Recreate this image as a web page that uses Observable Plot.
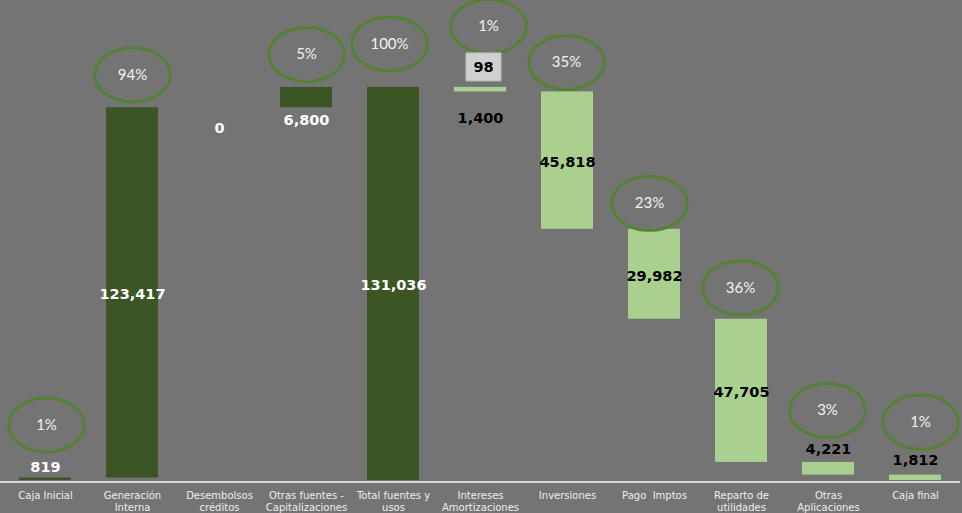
<!DOCTYPE html>
<html>
<head>
<meta charset="utf-8">
<script src="https://cdn.jsdelivr.net/npm/d3@7"></script>
<script src="https://cdn.jsdelivr.net/npm/@observablehq/plot@0.6"></script>
<style>
  html, body { margin: 0; padding: 0; background: #747474; overflow: hidden; }
  #chart svg { display: block; }
</style>
</head>
<body>
<div id="chart"></div>
<script>
// ---- DATA ----
const categories = [
  "Caja Inicial", "Generación\nInterna", "Desembolsos\ncréditos",
  "Otras fuentes -\nCapitalizaciones", "Total fuentes y\nusos",
  "Intereses\nAmortizaciones", "Inversiones", "Pago  Imptos",
  "Reparto de\nutilidades", "Otras\nAplicaciones", "Caja final"
];
const intereses = 98;
const amortizaciones = 1400;
const values = [819, 123417, 0, 6800, 131036, intereses + amortizaciones, 45818, 29982, 47705, 4221, 1812];
const steps = ["start", "up", "up", "up", "total", "down", "down", "down", "down", "down", "end"];
const groups = ["fuente", "fuente", "fuente", "fuente", "fuente", "uso", "uso", "uso", "uso", "uso", "uso"];
const valueLabels = ["819", "123,417", "0", "6,800", "131,036", "1,400", "45,818", "29,982", "47,705", "4,221", "1,812"];
const percentLabels = ["1%", "94%", "", "5%", "100%", "1%", "35%", "23%", "36%", "3%", "1%"];
const boxLabel = String(intereses);

// ---- BUILD ----
let cum = 0;
const data = categories.map((cat, i) => {
  const v = values[i];
  let y1, y2;
  if (steps[i] === "start" || steps[i] === "total" || steps[i] === "end") { y1 = 0; y2 = v; cum = v; }
  else if (steps[i] === "up") { y1 = cum; y2 = cum + v; cum += v; }
  else { y1 = cum - v; y2 = cum; cum -= v; }
  return { i, cat, v, y1, y2, group: groups[i], label: valueLabels[i], pct: percentLabels[i] };
});

// ---- LAYOUT (pixel offsets, not data) ----
const valueAnchor = ["top", "mid", "top", "bottom", "mid", "bottom", "mid", "mid", "mid", "top", "top"];
const valueDy = [-11, 1, 21, 13, 1.5, 26, 1.5, 2, 2, -13.5, -14.5];
const pctDy = [-53, -33, 0, -33, -43.5, -61, -29.5, -26, -31.5, -52, -53];
const pctDx = [1, 0, 0, 0, -4, 8, -1, -5, -1, -1, 5];

const colorFuente = "#3b5525";
const colorUso = "#a9d08e";

function ellipse(ratio) {
  return {
    draw(ctx, size) {
      const ry = Math.sqrt(size / Math.PI), rx = ry * ratio, k = 0.5523;
      ctx.moveTo(rx, 0);
      ctx.bezierCurveTo(rx, ry * k, rx * k, ry, 0, ry);
      ctx.bezierCurveTo(-rx * k, ry, -rx, ry * k, -rx, 0);
      ctx.bezierCurveTo(-rx, -ry * k, -rx * k, -ry, 0, -ry);
      ctx.bezierCurveTo(rx * k, -ry, rx, -ry * k, rx, 0);
      ctx.closePath();
    }
  };
}
function rectSym(ratio) {
  return {
    draw(ctx, size) {
      const ry = Math.sqrt(size / Math.PI), rx = ry * ratio;
      ctx.moveTo(-rx, -ry); ctx.lineTo(rx, -ry); ctx.lineTo(rx, ry); ctx.lineTo(-rx, ry); ctx.closePath();
    }
  };
}

const valueMarks = data.map((d, i) => {
  const a = valueAnchor[i];
  return Plot.text([d], {
    x: "cat",
    y: a === "mid" ? (e) => (e.y1 + e.y2) / 2 : a === "top" ? "y2" : "y1",
    text: "label",
    dy: valueDy[i],
    fill: d.group === "fuente" ? "#ffffff" : "#000000",
    fontFamily: "DejaVu Sans",
    fontWeight: "bold",
    fontSize: 14.5,
    lineAnchor: "middle"
  });
});

const pctData = data.filter((d) => d.pct);
const pctMarks = pctData.flatMap((d) => [
  Plot.dot([d], {
    x: "cat", y: "y2", dx: pctDx[d.i], dy: pctDy[d.i],
    symbol: ellipse(1.4), r: 27,
    fill: "none", stroke: "#548235", strokeWidth: 3
  }),
  Plot.text([d], {
    x: "cat", y: "y2", dx: pctDx[d.i], dy: pctDy[d.i],
    text: "pct", fill: "#f2f2f2",
    fontFamily: "Lato", fontSize: 15, lineAnchor: "middle"
  })
]);

const box = data.filter((d) => d.i === 5);

const chart = Plot.plot({
  width: 962,
  height: 513,
  marginLeft: 0,
  marginRight: 2,
  marginTop: 0,
  marginBottom: 33,
  style: { background: "#747474", fontFamily: "DejaVu Sans", overflow: "visible" },
  x: { domain: categories, paddingInner: 0.4, paddingOuter: 0.2, axis: null },
  y: { domain: [0, 160000], axis: null },
  marks: [
    Plot.barY(data, {
      x: "cat", y1: "y1", y2: "y2",
      fill: (d) => (d.group === "fuente" ? colorFuente : colorUso)
    }),
    Plot.ruleY([0], { stroke: "#d9d9d9", strokeWidth: 2, dy: 1.5 }),
    Plot.text(data, {
      x: "cat", y: 0, text: "cat", dy: 9.5,
      lineAnchor: "top", lineHeight: 1.2,
      fontFamily: "DejaVu Sans", fontSize: 10, fill: "#eeeeee"
    }),
    ...valueMarks,
    ...pctMarks,
    Plot.dot(box, {
      x: "cat", y: "y2", dx: 3, dy: -20.5,
      symbol: rectSym(1.25), r: 14,
      fill: "#d0d0d0", stroke: "#bdbdbd", strokeWidth: 1
    }),
    Plot.text(box, {
      x: "cat", y: "y2", dx: 3, dy: -20.5,
      text: () => boxLabel, fill: "#000000",
      fontFamily: "DejaVu Sans", fontWeight: "bold", fontSize: 14.5, lineAnchor: "middle"
    })
  ]
});
document.getElementById("chart").appendChild(chart);
</script>
</body>
</html>
